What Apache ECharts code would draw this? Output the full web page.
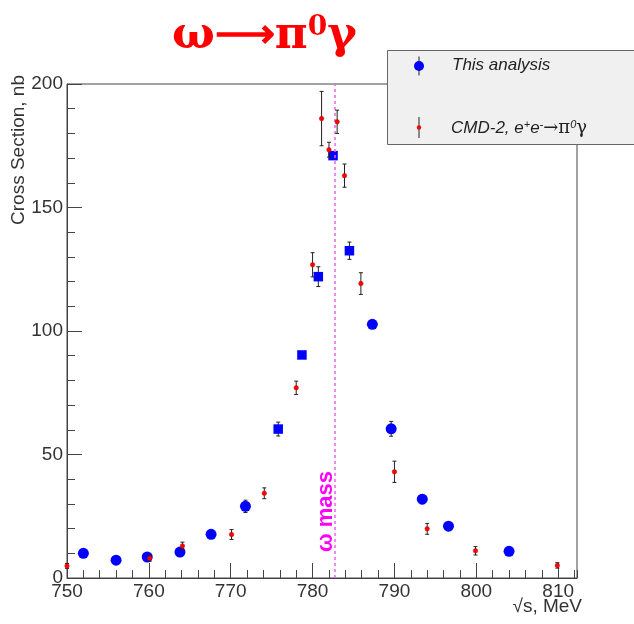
<!DOCTYPE html>
<html>
<head>
<meta charset="utf-8">
<script src="https://cdn.jsdelivr.net/npm/echarts@6/dist/echarts.min.js"></script>
<style>
  html, body { margin: 0; padding: 0; background: #ffffff; }
  #main { width: 634px; height: 624px; }
</style>
</head>
<body>
<div id="main"></div>
<script>
// This analysis: energy (MeV), cross section (nb), uncertainty (nb)
const thisAnalysisE   = [752.0, 756.0, 759.8, 763.8, 767.6, 771.8, 775.8, 778.7, 780.7, 782.5, 784.5, 787.3, 789.6, 793.4, 796.6, 804.0];
const thisAnalysisXs  = [10.0, 7.2, 8.5, 10.5, 17.7, 29.0, 60.3, 90.3, 122.0, 171.0, 132.5, 102.7, 60.4, 31.9, 21.0, 10.8];
const thisAnalysisErr = [1.5, 0.8, 1.0, 1.2, 1.0, 2.5, 2.8, 1.0, 4.0, 1.0, 3.5, 1.0, 3.0, 1.8, 1.2, 0.8];

// CMD-2, e+e- -> pi0 gamma
const cmd2E   = [750.0, 760.1, 764.1, 770.1, 774.1, 778.0, 780.0, 781.1, 782.0, 783.0, 783.9, 785.9, 790.0, 794.0, 799.9, 809.9];
const cmd2Xs  = [4.9, 8.0, 13.0, 17.6, 34.3, 77.0, 126.8, 186.0, 173.4, 184.7, 162.9, 119.2, 43.0, 19.9, 11.0, 5.1];
const cmd2Err = [1.0, 1.2, 1.5, 2.0, 2.2, 2.7, 4.9, 11.0, 3.0, 4.7, 4.7, 4.4, 4.3, 2.2, 1.7, 1.1];

// omega meson mass, MeV
const omegaMass = 782.65;

// axis ranges and tick steps
const xRange = [750, 812.3];
const yRange = [0, 200];
const xMajor = 10, xMinor = 2;
const yMajor = 50, yMinor = 10;

// points drawn with square markers (central scan region)
const squareWindow = [775, 785];

const zip3 = (a, b, c) => a.map((v, i) => [v, b[i], c[i]]);
const zip2 = (a, b) => a.map((v, i) => [v, b[i]]);

const AXIS_COLOR = '#444';
const TEXT_COLOR = '#333';
const FONT = 'Liberation Sans';

function errorBar(params, api) {
  const x = api.value(0), y = api.value(1), e = api.value(2);
  const top = api.coord([x, y + e]);
  const bot = api.coord([x, y - e]);
  const cap = 2;
  const st = { stroke: '#222', lineWidth: 1 };
  return {
    type: 'group',
    children: [
      { type: 'line', shape: { x1: top[0], y1: top[1], x2: bot[0], y2: bot[1] }, style: st },
      { type: 'line', shape: { x1: top[0] - cap, y1: top[1], x2: top[0] + cap, y2: top[1] }, style: st },
      { type: 'line', shape: { x1: bot[0] - cap, y1: bot[1], x2: bot[0] + cap, y2: bot[1] }, style: st }
    ]
  };
}

const isSquare = v => v[0] > squareWindow[0] && v[0] < squareWindow[1];

function majorAxis(range, interval, extra) {
  return Object.assign({
    type: 'value', min: range[0], max: range[1], interval: interval,
    axisLine: { show: true, lineStyle: { color: AXIS_COLOR, width: 1 } },
    axisTick: { show: true, inside: true, length: 15, lineStyle: { color: AXIS_COLOR } },
    splitLine: { show: false }
  }, extra);
}
function minorAxis(range, interval, extra) {
  return Object.assign({
    type: 'value', min: range[0], max: range[1], interval: interval,
    axisLine: { show: false },
    axisTick: { show: true, inside: true, length: 8, lineStyle: { color: AXIS_COLOR } },
    axisLabel: { show: false },
    splitLine: { show: false }
  }, extra);
}

const chart = echarts.init(document.getElementById('main'), null, { renderer: 'canvas' });

const greek = { fontSize: 45, fontFamily: 'DejaVu Serif', fontWeight: 'bold', fill: '#ff0000' };

chart.setOption({
  animation: false,
  backgroundColor: '#ffffff',
  grid: { left: 67, right: 57, top: 84, bottom: 46, show: true, borderColor: AXIS_COLOR, borderWidth: 1, containLabel: false },
  xAxis: [
    majorAxis(xRange, xMajor, {
      position: 'bottom',
      axisLabel: { fontSize: 19, color: TEXT_COLOR, fontFamily: FONT, margin: 4, showMaxLabel: false }
    }),
    minorAxis(xRange, xMinor, { position: 'bottom' })
  ],
  yAxis: [
    majorAxis(yRange, yMajor, {
      position: 'left',
      axisLabel: { fontSize: 19, color: TEXT_COLOR, fontFamily: FONT, margin: 4 }
    }),
    minorAxis(yRange, yMinor, { position: 'left' })
  ],
  series: [
    {
      type: 'custom', name: 'This analysis errors', renderItem: errorBar,
      data: zip3(thisAnalysisE, thisAnalysisXs, thisAnalysisErr),
      encode: { x: 0, y: 1 }, z: 3, silent: true
    },
    {
      type: 'scatter', name: 'This analysis',
      data: zip2(thisAnalysisE, thisAnalysisXs),
      symbol: v => (isSquare(v) ? 'rect' : 'circle'),
      symbolSize: v => (isSquare(v) ? 9.5 : 11),
      itemStyle: { color: '#0000ff', opacity: 1 },
      z: 4,
      markLine: {
        silent: true, symbol: ['none', 'none'],
        lineStyle: { color: '#f060f0', type: [3, 3], width: 1.5 },
        label: {
          show: true, formatter: 'ω mass', position: 'insideStartTop',
          color: '#ff00ff', fontSize: 22, fontWeight: 'bold', fontFamily: FONT, distance: [26, -3]
        },
        data: [{ xAxis: omegaMass }]
      }
    },
    {
      type: 'custom', name: 'CMD-2 errors', renderItem: errorBar,
      data: zip3(cmd2E, cmd2Xs, cmd2Err),
      encode: { x: 0, y: 1 }, z: 5, silent: true
    },
    {
      type: 'scatter', name: 'CMD-2',
      data: zip2(cmd2E, cmd2Xs),
      symbol: 'circle', symbolSize: 4.5,
      itemStyle: { color: '#ff0000', borderColor: '#cc0000', borderWidth: 0.5, opacity: 1 },
      z: 6
    }
  ],
  graphic: [
    // title
    {
      type: 'text', left: 172, top: 14, z: 20,
      style: {
        text: '{g|ω}{r|⟶}{g|π}{s|0}{g|γ}',
        rich: {
          g: greek,
          r: { fontSize: 42, fontFamily: 'Liberation Serif', fontWeight: 'bold', fill: '#ff0000' },
          s: { fontSize: 28, fontFamily: 'DejaVu Serif', fontWeight: 'bold', fill: '#ff0000', verticalAlign: 'top' }
        }
      }
    },
    // y axis title
    {
      type: 'text', x: 19, y: 75, rotation: Math.PI / 2, z: 20,
      style: { text: 'Cross Section, nb', fontSize: 19, fontFamily: FONT, fill: TEXT_COLOR, align: 'right', verticalAlign: 'middle' }
    },
    // x axis title
    {
      type: 'text', x: 582, y: 607, z: 20,
      style: { text: '√s, MeV', fontSize: 19, fontFamily: FONT, fill: TEXT_COLOR, align: 'right', verticalAlign: 'middle' }
    },
    // legend box
    {
      type: 'group', z: 30,
      children: [
        { type: 'rect', shape: { x: 387.5, y: 50.5, width: 260, height: 94 }, style: { fill: '#f0f0f0', stroke: '#666', lineWidth: 1 } },
        { type: 'line', shape: { x1: 419, y1: 56.5, x2: 419, y2: 75.5 }, style: { stroke: '#222', lineWidth: 1 } },
        { type: 'circle', shape: { cx: 419, cy: 66, r: 5 }, style: { fill: '#0000ff' } },
        { type: 'text', x: 452, y: 65, style: { text: 'This analysis', fontSize: 17, fontStyle: 'italic', fontFamily: FONT, fill: '#222', verticalAlign: 'middle' } },
        { type: 'line', shape: { x1: 419, y1: 117, x2: 419, y2: 138 }, style: { stroke: '#222', lineWidth: 1 } },
        { type: 'circle', shape: { cx: 419, cy: 127.5, r: 2.2 }, style: { fill: '#ff0000' } },
        {
          type: 'text', x: 451, y: 128,
          style: {
            text: '{t|CMD-2, e}{u|+}{t|e}{u|-}{g|→π}{u|0}{g|γ}',
            verticalAlign: 'middle',
            rich: {
              t: { fontSize: 17, fontStyle: 'italic', fontFamily: FONT, fill: '#222' },
              u: { fontSize: 11, fontStyle: 'italic', fontFamily: FONT, fill: '#222', verticalAlign: 'top' },
              g: { fontSize: 18, fontFamily: 'DejaVu Serif', fill: '#222' }
            }
          }
        }
      ]
    }
  ]
});
</script>
</body>
</html>
